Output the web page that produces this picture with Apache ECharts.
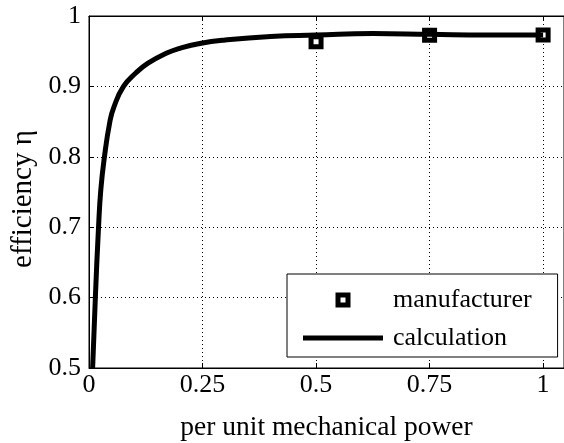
<!DOCTYPE html>
<html>
<head>
<meta charset="utf-8">
<script src="https://cdn.jsdelivr.net/npm/echarts@6/dist/echarts.min.js"></script>
<style>html,body{margin:0;padding:0;background:#fff}#c{width:564px;height:443px}</style>
</head>
<body>
<div id="c"></div>
<script>
var calcPower = [0.008, 0.014, 0.021, 0.026, 0.034, 0.046, 0.055, 0.076, 0.103, 0.13, 0.17, 0.2, 0.244, 0.3, 0.4, 0.5, 0.625, 0.75, 0.875, 1.0];
var calcEff   = [0.5, 0.6, 0.7, 0.753, 0.8, 0.85, 0.871, 0.9, 0.919, 0.933, 0.947, 0.954, 0.961, 0.966, 0.971, 0.973, 0.975, 0.974, 0.973, 0.973];
var manuPower = [0.5, 0.75, 1.0];
var manuEff   = [0.9635, 0.9725, 0.973];
var xTicks = [0, 0.25, 0.5, 0.75, 1];
var yTicks = [0.5, 0.6, 0.7, 0.8, 0.9, 1];

var FONT = 'Liberation Serif';
var FS = 26;
function zip(a, b) { return a.map(function (v, i) { return [v, b[i]]; }); }

var chart = echarts.init(document.getElementById('c'), null, {renderer: 'canvas'});
chart.setOption({
  animation: false,
  backgroundColor: '#fff',
  textStyle: {fontFamily: FONT, color: '#000'},
  grid: {left: 89, top: 16, right: 0, bottom: 75, containLabel: false, outerBoundsMode: 'none',
    show: true, borderColor: '#000', borderWidth: 1, backgroundColor: 'transparent'},
  xAxis: [{
    type: 'value', min: 0, max: 1.046, interval: 0.25,
    name: 'per unit mechanical power', nameLocation: 'middle', nameGap: 46,
    nameTextStyle: {fontFamily: FONT, fontSize: 27.5, color: '#000'},
    axisLine: {lineStyle: {color: '#000', width: 1}},
    axisTick: {inside: true, length: 5, lineStyle: {color: '#000'}},
    axisLabel: {fontFamily: FONT, fontSize: FS, color: '#000', margin: 4, showMaxLabel: false,
      formatter: function (v) { return xTicks.indexOf(+v.toFixed(4)) >= 0 ? String(+v.toFixed(4)) : ''; }},
    splitLine: {show: true, lineStyle: {color: '#000', width: 1, type: [1, 3]}}
  }, {
    type: 'value', min: 0, max: 1.046, interval: 0.25, position: 'top',
    axisLine: {show: true, lineStyle: {color: '#000'}},
    axisTick: {inside: true, length: 5, lineStyle: {color: '#000'}},
    axisLabel: {show: false}, splitLine: {show: false}
  }],
  yAxis: [{
    type: 'value', min: 0.5, max: 1, interval: 0.1,
    name: 'efficiency η', nameLocation: 'middle', nameGap: 51,
    nameTextStyle: {fontFamily: FONT, fontSize: 29, color: '#000', padding: [0, 14, 0, 0]},
    axisLine: {lineStyle: {color: '#000', width: 1}},
    axisTick: {inside: true, length: 5, lineStyle: {color: '#000'}},
    axisLabel: {fontFamily: FONT, fontSize: FS, color: '#000', margin: 8,
      formatter: function (v) { return String(+v.toFixed(2)); }},
    splitLine: {show: true, lineStyle: {color: '#000', width: 1, type: [1, 3]}}
  }],
  legend: {
    orient: 'vertical', left: 287, top: 274,
    backgroundColor: '#fff', borderColor: '#000', borderWidth: 1,
    padding: [13, 26, 6, 16], itemGap: 12,
    itemWidth: 80, itemHeight: 10, symbolKeepAspect: true,
    textStyle: {fontFamily: FONT, fontSize: FS, color: '#000', padding: [0, 0, 0, 5]},
    data: [
      {name: 'manufacturer', icon: 'path://M0 0H10V10H0Z', itemStyle: {color: '#fff', borderColor: '#000', borderWidth: 5, opacity: 1}},
      {name: 'calculation', icon: 'path://M0 0H16V1H0Z', itemStyle: {color: '#000', borderWidth: 0}}
    ]
  },
  series: [{
    name: 'manufacturer', type: 'scatter', z: 2,
    data: zip(manuPower, manuEff),
    symbol: 'rect', symbolSize: 10,
    itemStyle: {color: '#fff', borderColor: '#000', borderWidth: 5, opacity: 1}
  }, {
    name: 'calculation', type: 'line', z: 3,
    data: zip(calcPower, calcEff),
    smooth: 0.5, showSymbol: false, symbol: 'none',
    lineStyle: {color: '#000', width: 5},
    itemStyle: {color: '#000'}
  }]
});
</script>
</body>
</html>
